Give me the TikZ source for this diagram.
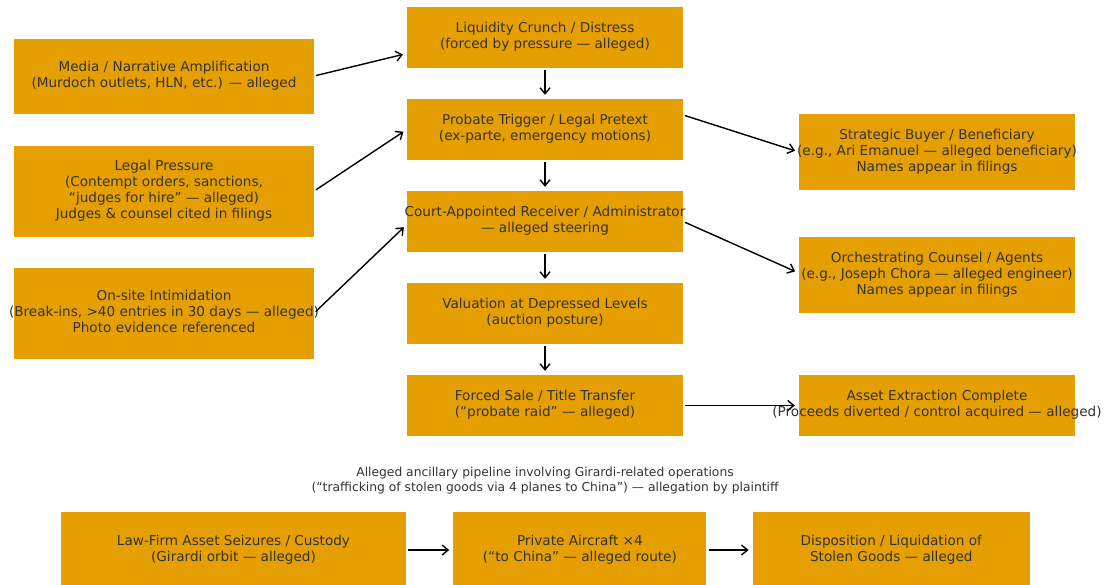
\documentclass[tikz,border=0pt]{standalone}
\usepackage{fontspec}
\setmainfont{DejaVu Sans}
\usetikzlibrary{positioning,arrows.meta}
\definecolor{boxfill}{HTML}{E69F00}
\definecolor{inktext}{HTML}{333333}
\newcommand{\boxtext}[1]{\makebox[0pt]{\begin{tabular}{@{}c@{}}#1\end{tabular}}}

\begin{document}
\begin{tikzpicture}[x=1pt, y=-1pt, node distance=92pt,
  box/.style={fill=boxfill, inner sep=0pt, minimum width=276pt, minimum height=61pt, text=inktext, font=\fontsize{13.6}{16}\selectfont},
  >={Straight Barb[length=6pt,width=10pt]},
  link/.style={->, line width=1.4pt, shorten <=2pt, shorten >=4pt}]
\useasboundingbox (0,0) rectangle (1109,584);
\clip (0,0) rectangle (1109,584);
% left column
\node[box, minimum width=300pt, minimum height=75pt] (media) at (164,76) {\boxtext{Media / Narrative Amplification\\(Murdoch outlets, HLN, etc.) — alleged}};
\node[box, minimum width=300pt, minimum height=91pt] (legal) at (164,191) {\boxtext{Legal Pressure\\(Contempt orders, sanctions,\\“judges for hire” — alleged)\\Judges \& counsel cited in filings}};
\node[box, minimum width=300pt, minimum height=91pt] (onsite) at (164,313) {\boxtext{On-site Intimidation\\(Break-ins, >40 entries in 30 days — alleged)\\Photo evidence referenced}};
% main pipeline
\node[box] (liq) at (545,37.5) {\boxtext{Liquidity Crunch / Distress\\(forced by pressure — alleged)}};
\node[box] (prob) [below of=liq] {\boxtext{Probate Trigger / Legal Pretext\\(ex-parte, emergency motions)}};
\node[box] (court) [below of=prob] {\boxtext{Court-Appointed Receiver / Administrator\\— alleged steering}};
\node[box] (val) [below of=court] {\boxtext{Valuation at Depressed Levels\\(auction posture)}};
\node[box] (forced) [below of=val] {\boxtext{Forced Sale / Title Transfer\\(“probate raid” — alleged)}};
% right column
\node[box, minimum height=76pt] (strat) at (937,152) {\boxtext{Strategic Buyer / Beneficiary\\(e.g., Ari Emanuel — alleged beneficiary)\\Names appear in filings}};
\node[box, minimum height=76pt] (orch) at (937,275) {\boxtext{Orchestrating Counsel / Agents\\(e.g., Joseph Chora — alleged engineer)\\Names appear in filings}};
\node[box] (asset) at (937,405.5) {\boxtext{Asset Extraction Complete\\(Proceeds diverted / control acquired — alleged)}};
% ancillary pipeline
\node[text=inktext, align=center, font=\fontsize{12.3}{15}\selectfont] (note) at (545,481) {Alleged ancillary pipeline involving Girardi-related operations\\(“trafficking of stolen goods via 4 planes to China”) — allegation by plaintiff};
\node[box, minimum width=345pt, minimum height=76pt] (law) at (233.5,550) {\boxtext{Law-Firm Asset Seizures / Custody\\(Girardi orbit — alleged)}};
\node[box, minimum width=253pt, minimum height=76pt] (plane) [right=47pt of law] {\boxtext{Private Aircraft ×4\\(“to China” — alleged route)}};
\node[box, minimum width=277pt, minimum height=76pt] (disp) [right=46pt of plane] {\boxtext{Disposition / Liquidation of\\Stolen Goods — alleged}};
\draw[link] (media.east) -- ([yshift=-16pt]liq.west);
\draw[link] (legal.east) -- (prob.west);
\draw[link] (onsite.east) -- ([yshift=-3pt]court.west);
\draw[link] (liq) -- (prob);
\draw[link] (prob) -- (court);
\draw[link] (court) -- (val);
\draw[link] (val) -- (forced);
\draw[link] ([yshift=14.5pt]prob.east) -- (strat.west);
\draw[link] (court.east) -- ([yshift=2pt]orch.west);
\draw[link] (forced.east) -- (asset.west);
\draw[link] (law) -- (plane);
\draw[link] (plane) -- (disp);
\end{tikzpicture}
\end{document}
